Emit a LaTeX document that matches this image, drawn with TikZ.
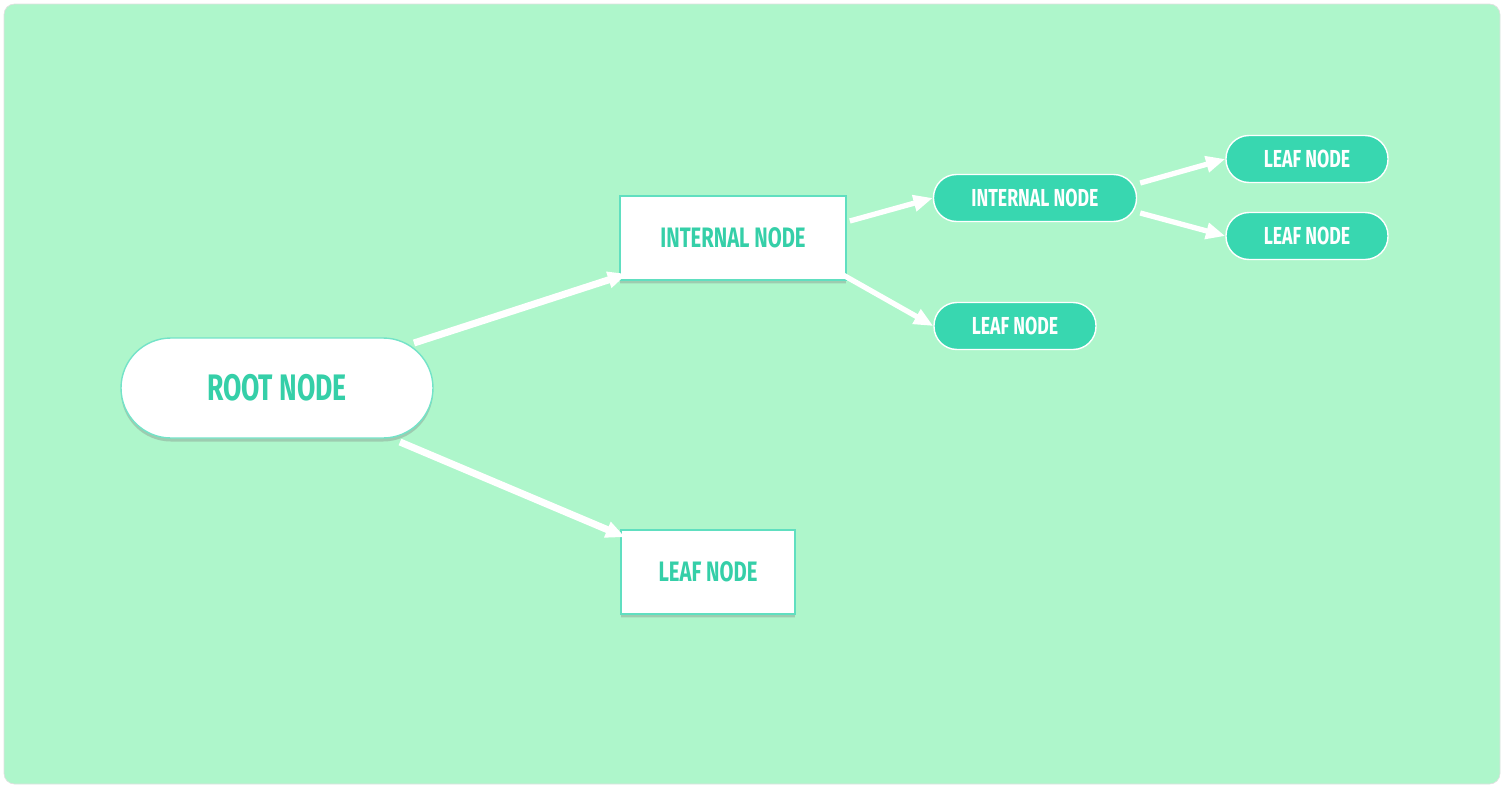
\documentclass[tikz,border=0pt]{standalone}
\usepackage{fontspec}
\setmainfont{Fira Sans}[FakeStretch=0.72]
\usetikzlibrary{calc,shadows}
\definecolor{bgreen}{HTML}{AEF6CB}
\definecolor{teal}{HTML}{38D7B0}
\definecolor{tealtext}{HTML}{35CFA8}
\tikzset{
  big/.style={rounded corners=50\pgfxx,fill=white,draw=teal!70,thick,minimum width=312\pgfxx,minimum height=100\pgfxx,
    drop shadow={shadow xshift=0pt,shadow yshift=-2pt,opacity=.35},text=tealtext,font=\bfseries\fontsize{21}{21}\selectfont},
  barrel/.style={minimum height=83\pgfxx,text=tealtext,font=\bfseries\fontsize{16}{16}\selectfont},
  pill/.style={rounded corners=23\pgfxx,fill=teal,draw=white,thick,minimum width=162\pgfxx,minimum height=47\pgfxx,
    text=white,font=\bfseries\fontsize{14}{14}\selectfont},
  link/.style={white,line width=#1,-{Triangle[length=11pt,width=9pt]}},
  link/.default=3pt
}
\newlength\pgfxx \setlength\pgfxx{0.02cm}
\usetikzlibrary{arrows.meta}
% draws a white cask-like shape round a node
\def\cask#1{\draw[fill=white,draw=teal!80,thick,drop shadow={shadow xshift=0pt,shadow yshift=-2pt,opacity=.35}]
  (#1.north west) .. controls ($(#1.north)+(0,0.45)$) .. (#1.north east) -- (#1.south east)
  .. controls ($(#1.south)+(0,-0.45)$) .. (#1.south west) -- cycle;}

\begin{document}
\begin{tikzpicture}[x=0.02cm,y=-0.02cm]
\useasboundingbox (0,0) rectangle (1504,788);
\draw[fill=bgreen,draw=black!12,rounded corners=6pt] (4,4) rectangle (1500,784);
% nodes
\node[big] (root) at (277,388) {ROOT NODE};
\path (733,238) node[barrel,minimum width=225\pgfxx] (inA) {};
\cask{inA}
\node[barrel] at (inA) {INTERNAL NODE};
\path (708,572) node[barrel,minimum width=173\pgfxx] (lfA) {};
\cask{lfA}
\node[barrel] at (lfA) {LEAF NODE};
\node[pill,minimum width=203\pgfxx] (inB) at (1035,198) {INTERNAL NODE};
\node[pill] (lfB) at (1015,326) {LEAF NODE};
\node[pill] (lfC) at (1307,159) {LEAF NODE};
\node[pill] (lfD) at (1307,236) {LEAF NODE};
% links
\draw[link=4pt] ($(root)+(137,-45)$) -- ($(inA.south west)+(7,-6)$);
\draw[link=4pt] ($(root)+(123,54)$) -- ($(lfA.north west)+(4,7)$);
\draw[link] ($(inA.east)+(4,-17)$) -- (inB.west);
\draw[link] ($(inA.south east)+(-3,-5)$) -- (lfB.west);
\draw[link] ($(inB.east)+(3,-15)$) -- (lfC.west);
\draw[link] ($(inB.east)+(3,15)$) -- (lfD.west);
\end{tikzpicture}
\end{document}
